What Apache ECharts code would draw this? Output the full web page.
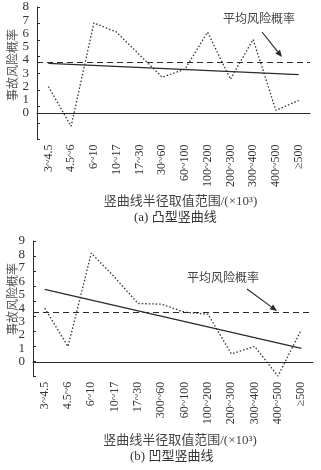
<!DOCTYPE html>
<html>
<head>
<meta charset="utf-8">
<script src="https://cdn.jsdelivr.net/npm/echarts@6/dist/echarts.min.js"></script>
<style>
  html, body { margin: 0; padding: 0; background: #fff; }
  #chart { width: 321px; height: 470px; }
</style>
</head>
<body>
<div id="chart"></div>
<script>
// 竖曲线半径取值范围
const categoriesA = ['3~4.5', '4.5~6', '6~10', '10~17', '17~30', '30~60', '60~100', '100~200', '200~300', '300~400', '400~500', '≥500'];
const categoriesB = ['3~4.5', '4.5~6', '6~10', '10~17', '17~30', '300~60', '60~100', '100~200', '200~300', '300~400', '400~500', '≥500'];

// (a) 凸型竖曲线
const riskA = [2.0, -1.0, 6.8, 6.1, 4.4, 2.7, 3.3, 6.1, 2.55, 5.55, 0.2, 0.95];
const trendA = [3.75, 2.9];   // 首、尾
const meanA = 3.86;

// (b) 凹型竖曲线
const riskB = [4.0, 1.15, 8.1, 6.3, 4.35, 4.3, 3.7, 3.55, 0.6, 1.15, -1.05, 2.4];
const trendB = [5.4, 1.0];
const meanB = 3.68;

// 纵轴刻度标签
const yLabelsA = [0, 1, 2, 3, 4, 5, 6, 7, 8];
const yLabelsB = [0, 1, 2, 3, 4, 5, 6, 7, 8, 9];

const SERIF = "'Liberation Serif', 'Noto Sans CJK SC', serif";
const INK = '#2a2a2a';

// 原图刻度线与标签不对齐，刻度均分
function evenTicks(min, max, n) {
    const arr = [];
    for (let k = 0; k <= n; k++) arr.push(min + k * (max - min) / n);
    return arr;
}

function xAxisCfg(idx, cats, nameGap) {
    return {
        type: 'category',
        gridIndex: idx,
        data: cats,
        boundaryGap: true,
        axisLine: { lineStyle: { color: INK, width: 1 } },
        axisTick: { inside: true, length: 3, lineStyle: { color: INK } },
        axisLabel: { rotate: 90, margin: 5, fontSize: 12, color: '#333', fontFamily: SERIF },
        name: '竖曲线半径取值范围/(×10³)',
        nameLocation: 'middle',
        nameGap: nameGap,
        nameMoveOverlap: false,
        nameTextStyle: { fontSize: 13, color: '#444', fontFamily: SERIF, padding: [0, 0, 0, 14] }
    };
}

function yAxisCfg(idx, min, max, labels, nTicks) {
    return {
        type: 'value',
        gridIndex: idx,
        min: min,
        max: max,
        axisLine: { show: true, lineStyle: { color: INK, width: 1 } },
        axisTick: { show: true, inside: true, length: 3, lineStyle: { color: INK }, customValues: evenTicks(min, max, nTicks) },
        axisLabel: { customValues: labels, margin: 8, fontSize: 13, color: '#333', fontFamily: SERIF },
        splitLine: { show: false }
    };
}

function riskSeries(idx, data, mean) {
    return {
        type: 'line',
        xAxisIndex: idx,
        yAxisIndex: idx,
        data: data,
        showSymbol: false,
        lineStyle: { color: '#333', width: 1.3, type: [1.5, 2] },
        markLine: {
            silent: true,
            symbol: 'none',
            label: { show: false },
            lineStyle: { color: INK, width: 1.2, type: [6, 4] },
            data: [{ yAxis: mean }]
        }
    };
}

function trendSeries(idx, ends, n) {
    return {
        type: 'line',
        xAxisIndex: idx,
        yAxisIndex: idx,
        data: [[0, ends[0]], [n - 1, ends[1]]],
        showSymbol: false,
        lineStyle: { color: INK, width: 1.3 }
    };
}

// 纵轴名称（竖排）
function yName(x, y) {
    return {
        type: 'text', x: x, y: y, rotation: Math.PI / 2,
        style: { text: '事故风险概率', fontSize: 12, fill: '#555', fontFamily: SERIF, align: 'center', verticalAlign: 'middle' }
    };
}

function note(tx, ty, x1, y1, x2, y2) {
    const ang = Math.atan2(y2 - y1, x2 - x1);
    const L = 7, W = 3;
    const bx = x2 - L * Math.cos(ang), by = y2 - L * Math.sin(ang);
    const px = -Math.sin(ang) * W, py = Math.cos(ang) * W;
    return [
        { type: 'text', left: tx, top: ty, style: { text: '平均风险概率', fontSize: 12, fill: '#444', fontFamily: SERIF } },
        { type: 'line', shape: { x1: x1, y1: y1, x2: bx, y2: by }, style: { stroke: INK, lineWidth: 1.2 } },
        { type: 'polygon', shape: { points: [[x2, y2], [bx + px, by + py], [bx - px, by - py]] }, style: { fill: INK } }
    ];
}

const chart = echarts.init(document.getElementById('chart'));
chart.setOption({
    animation: false,
    grid: [
        { left: 37, top: 7, width: 273, height: 132.5 },
        { left: 33, top: 241, width: 280, height: 135.7 }
    ],
    xAxis: [xAxisCfg(0, categoriesA, 56), xAxisCfg(1, categoriesB, 57)],
    yAxis: [yAxisCfg(0, -2, 8, yLabelsA, 8), yAxisCfg(1, -1.1, 9, yLabelsB, 9)],
    series: [
        riskSeries(0, riskA, meanA),
        trendSeries(0, trendA, categoriesA.length),
        riskSeries(1, riskB, meanB),
        trendSeries(1, trendB, categoriesB.length)
    ],
    graphic: [
        yName(14, 65),
        yName(14, 299),
        ...note(223, 14, 262, 32, 282, 57),
        ...note(187, 273, 247, 289, 277, 311),
        { type: 'text', left: 134, top: 211, style: { text: '(a) 凸型竖曲线', fontSize: 13, fill: '#333', fontFamily: SERIF } },
        { type: 'text', left: 130, top: 450, style: { text: '(b) 凹型竖曲线', fontSize: 13, fill: '#333', fontFamily: SERIF } }
    ]
});
</script>
</body>
</html>
